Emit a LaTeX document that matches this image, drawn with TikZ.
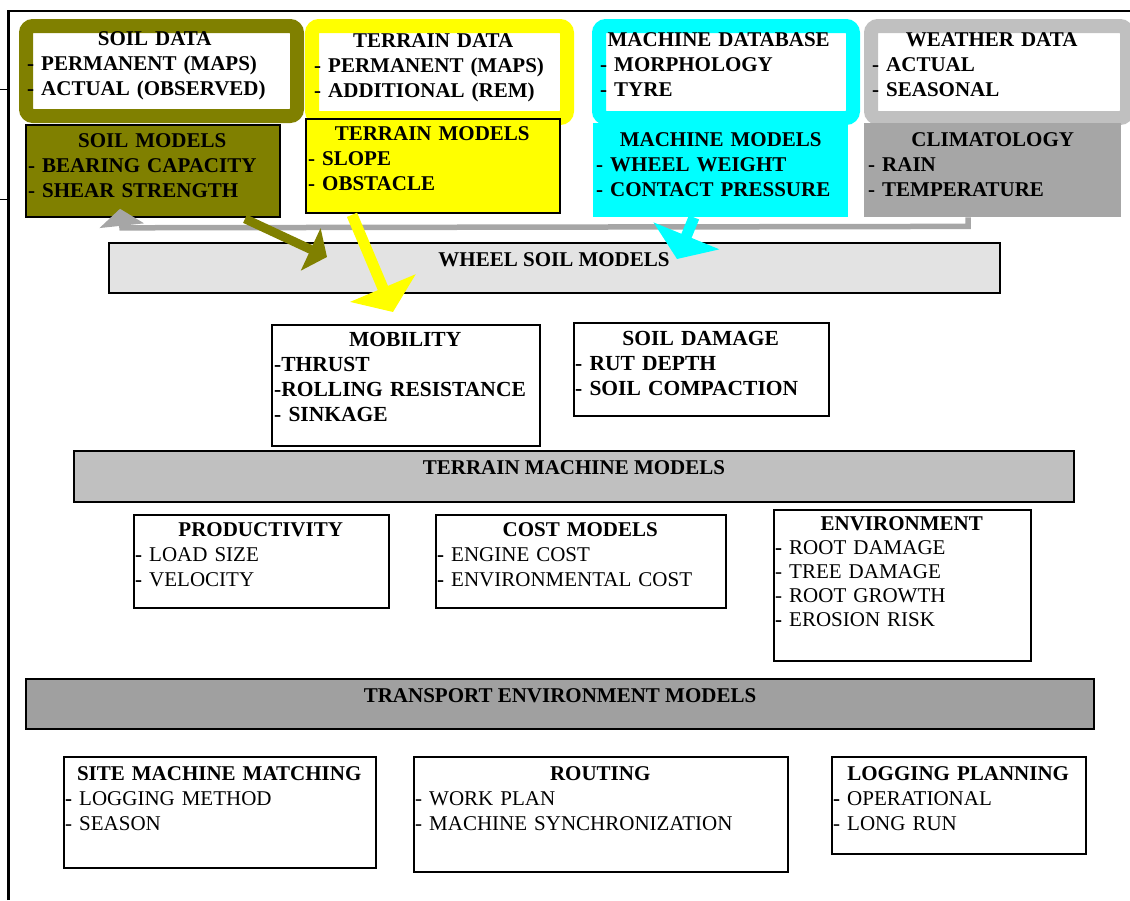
\documentclass[tikz,border=0pt]{standalone}
\usepackage{fontspec}
\setmainfont{Liberation Serif}
\usetikzlibrary{arrows.meta,calc}

\definecolor{soilolive}{HTML}{808000}
\definecolor{terrainyellow}{HTML}{FFFF00}
\definecolor{machinecyan}{HTML}{00FFFF}
\definecolor{weathergray}{HTML}{C0C0C0}
\definecolor{climagray}{HTML}{A6A6A6}
\definecolor{wheelgray}{HTML}{E3E3E3}
\definecolor{tmgray}{HTML}{C0C0C0}
\definecolor{transgray}{HTML}{A0A0A0}

% centred heading line of a box, full text width
\newcommand\boxtitle[1]{\hbox to\hsize{\strut\hss\textbf{#1}\hss}}

\tikzset{
  databox/.style={rectangle, draw=#1, line width=14pt, rounded corners=7pt,
    fill=white, anchor=north west, inner sep=0pt},
  modelbox/.style={rectangle, fill=#1, anchor=north west, inner sep=0pt},
  outlinedbox/.style={rectangle, draw=black, line width=1.8pt, fill=#1,
    anchor=north west, inner sep=0pt},
  boxtext/.style={anchor=north west, inner sep=0pt, align=left, text width=#1,
    font=\fontsize{21}{25}\selectfont},
  bartext/.style={inner sep=0pt, font=\fontsize{21}{25}\selectfont\bfseries},
  fatarrow/.style={line width=#1, line join=miter},
}

\begin{document}
\begin{tikzpicture}[x=1pt, y=-1pt]
\useasboundingbox (0,0) rectangle (1130,900);

% ---- data sources (top row) ----
\node[databox=soilolive, minimum width=271pt, minimum height=90pt] (soildata) at (19,19) {};
\node[databox=terrainyellow, minimum width=255pt, minimum height=92pt] (terraindata) at (305,19) {};
\node[databox=machinecyan, minimum width=254pt, minimum height=92pt] (machinedb) at (592,19) {};
\node[databox=weathergray, minimum width=256pt, minimum height=92pt] (weatherdata) at (864,19) {};

\node[boxtext=255pt, font=\fontsize{21}{25}\selectfont\bfseries] (soildata-t) at (27,27.9)
  {\boxtitle{SOIL DATA}\\ - PERMANENT (MAPS)\\ - ACTUAL (OBSERVED)};
\node[boxtext=238pt, font=\fontsize{21}{25}\selectfont\bfseries] (terraindata-t) at (314,29.4)
  {\boxtitle{TERRAIN DATA}\\ - PERMANENT (MAPS)\\ - ADDITIONAL (REM)};
\node[boxtext=237pt, font=\fontsize{21}{25}\selectfont\bfseries] (machinedb-t) at (600,28.9)
  {\boxtitle{MACHINE DATABASE}\\ - MORPHOLOGY\\ - TYRE};
\node[boxtext=239pt, font=\fontsize{21}{25}\selectfont\bfseries] (weatherdata-t) at (872,28.9)
  {\boxtitle{WEATHER DATA}\\ - ACTUAL\\ - SEASONAL};

% ---- models (second row) ----
\node[outlinedbox=soilolive, minimum width=254pt, minimum height=92pt] (soilmodels) at (25,124) {};
\node[outlinedbox=terrainyellow, minimum width=254pt, minimum height=94pt] (terrainmodels) at (305,118) {};
\node[modelbox=machinecyan, minimum width=255pt, minimum height=94pt] (machinemodels) at (593,123) {};
\node[modelbox=climagray, minimum width=257pt, minimum height=94pt] (climatology) at (864,123) {};

\node[boxtext=248pt, font=\fontsize{21}{25}\selectfont\bfseries] (soilmodels-t) at (28,129.4)
  {\boxtitle{SOIL MODELS}\\ - BEARING CAPACITY\\ - SHEAR STRENGTH};
\node[boxtext=248pt, font=\fontsize{21}{25}\selectfont\bfseries] (terrainmodels-t) at (308,122.9)
  {\boxtitle{TERRAIN MODELS}\\ - SLOPE\\ - OBSTACLE};
\node[boxtext=249pt, font=\fontsize{21}{25}\selectfont\bfseries] (machinemodels-t) at (596,128.4)
  {\boxtitle{MACHINE MODELS}\\ - WHEEL WEIGHT\\ - CONTACT PRESSURE};
\node[boxtext=249pt, font=\fontsize{21}{25}\selectfont\bfseries] (climatology-t) at (868,128.9)
  {\boxtitle{CLIMATOLOGY}\\ - RAIN\\ - TEMPERATURE};

% ---- wheel soil models ----
\node[outlinedbox=wheelgray, minimum width=891pt, minimum height=50pt] (wheelsoil) at (108,242) {};
\node[bartext] (wheelsoil-t) at (554,260) {WHEEL SOIL MODELS};

\node[outlinedbox=white, minimum width=268pt, minimum height=121pt] (mobility) at (271,324) {};
\node[boxtext=262pt, font=\fontsize{21.5}{25}\selectfont\bfseries] (mobility-t) at (274,328.9)
  {\boxtitle{MOBILITY}\\ -THRUST\\ -ROLLING RESISTANCE\\ - SINKAGE};
\node[outlinedbox=white, minimum width=255pt, minimum height=93pt] (soildamage) at (573,322) {};
\node[boxtext=251pt, font=\fontsize{21.5}{25}\selectfont\bfseries] (soildamage-t) at (575,327.9)
  {\boxtitle{SOIL DAMAGE}\\ - RUT DEPTH\\ - SOIL COMPACTION};

% ---- terrain machine models ----
\node[outlinedbox=tmgray, minimum width=1000pt, minimum height=51pt] (terrainmachine) at (73,450) {};
\node[bartext] (terrainmachine-t) at (574,467.5) {TERRAIN MACHINE MODELS};

\node[outlinedbox=white, minimum width=255pt, minimum height=93pt] (productivity) at (133,514) {};
\node[boxtext=251pt] (productivity-t) at (135,518.9)
  {\boxtitle{PRODUCTIVITY}\\ \textbf{-} LOAD SIZE\\ \textbf{-} VELOCITY};
\node[outlinedbox=white, minimum width=290pt, minimum height=93pt] (costmodels) at (435,514) {};
\node[boxtext=286pt] (costmodels-t) at (437,518.9)
  {\boxtitle{COST MODELS}\\ \textbf{-} ENGINE COST\\ \textbf{-} ENVIRONMENTAL COST};
\node[outlinedbox=white, minimum width=257pt, minimum height=151pt] (environment) at (773,509) {};
\node[boxtext=253pt, font=\fontsize{21}{24}\selectfont] (environment-t) at (775,513.6)
  {\boxtitle{ENVIRONMENT}\\ \textbf{-} ROOT DAMAGE\\ - TREE DAMAGE\\ - ROOT GROWTH\\ \textbf{-} EROSION RISK};

% ---- transport environment models ----
\node[outlinedbox=transgray, minimum width=1068pt, minimum height=50pt] (transport) at (25,678) {};
\node[bartext] (transport-t) at (560,696) {TRANSPORT ENVIRONMENT MODELS};

\node[outlinedbox=white, minimum width=312pt, minimum height=111pt] (sitematch) at (63,756) {};
\node[boxtext=308pt] (sitematch-t) at (65,762.4)
  {\boxtitle{SITE MACHINE MATCHING}\\ \textbf{-} LOGGING METHOD\\ - SEASON};
\node[outlinedbox=white, minimum width=374pt, minimum height=115pt] (routing) at (413,756) {};
\node[boxtext=370pt] (routing-t) at (415,762.4)
  {\boxtitle{ROUTING}\\ - WORK PLAN\\ - MACHINE SYNCHRONIZATION};
\node[outlinedbox=white, minimum width=254pt, minimum height=97pt] (logging) at (831,756) {};
\node[boxtext=250pt] (logging-t) at (833,762.4)
  {\boxtitle{LOGGING PLANNING}\\ \textbf{-} OPERATIONAL\\ - LONG RUN};

% ---- feedback line from climatology back to soil models ----
\coordinate (climabend) at ($(climatology.south west)+(104,9)$);
\coordinate (soilbend) at ($(soilmodels.south west)+(97,10)$);
\coordinate (soiltip) at ($(soilmodels.south west)+(95,-9)$);
\draw[fatarrow=5.5pt, draw=climagray, -{Triangle[width=44pt,length=17pt]}]
  ($(climatology.south west)+(104,0)$) -- (climabend) -- (soilbend) -- (soiltip);

% ---- model outputs into the wheel soil models ----
\coordinate (olivetip) at ($(wheelsoil.north west)+(219,15)$);
\draw[fatarrow=9pt, draw=soilolive, -{Triangle[width=46pt,length=18pt]}]
  ($(soilmodels.south west)+(220,1)$) -- (olivetip);
\coordinate (yellowtip) at ($(wheelsoil.north west)+(285,70)$);
\draw[fatarrow=11pt, draw=terrainyellow, -{Triangle[width=70pt,length=26pt]}]
  ($(terrainmodels.south west)+(47,1)$) -- (yellowtip);
\coordinate (cyantip) at ($(wheelsoil.north west)+(569,17)$);
\draw[fatarrow=11pt, draw=machinecyan, -{Triangle[width=70pt,length=25pt]}]
  ($(machinemodels.south west)+(101,0)$) -- (cyantip);

% ---- page frame ----
\draw[line width=2.2pt] (8.5,900) -- (8.5,11) -- (1130,11);
\draw[line width=0.8pt] (0,89) -- (8.5,89);
\draw[line width=0.8pt] (0,199) -- (8.5,199);
\end{tikzpicture}
\end{document}
